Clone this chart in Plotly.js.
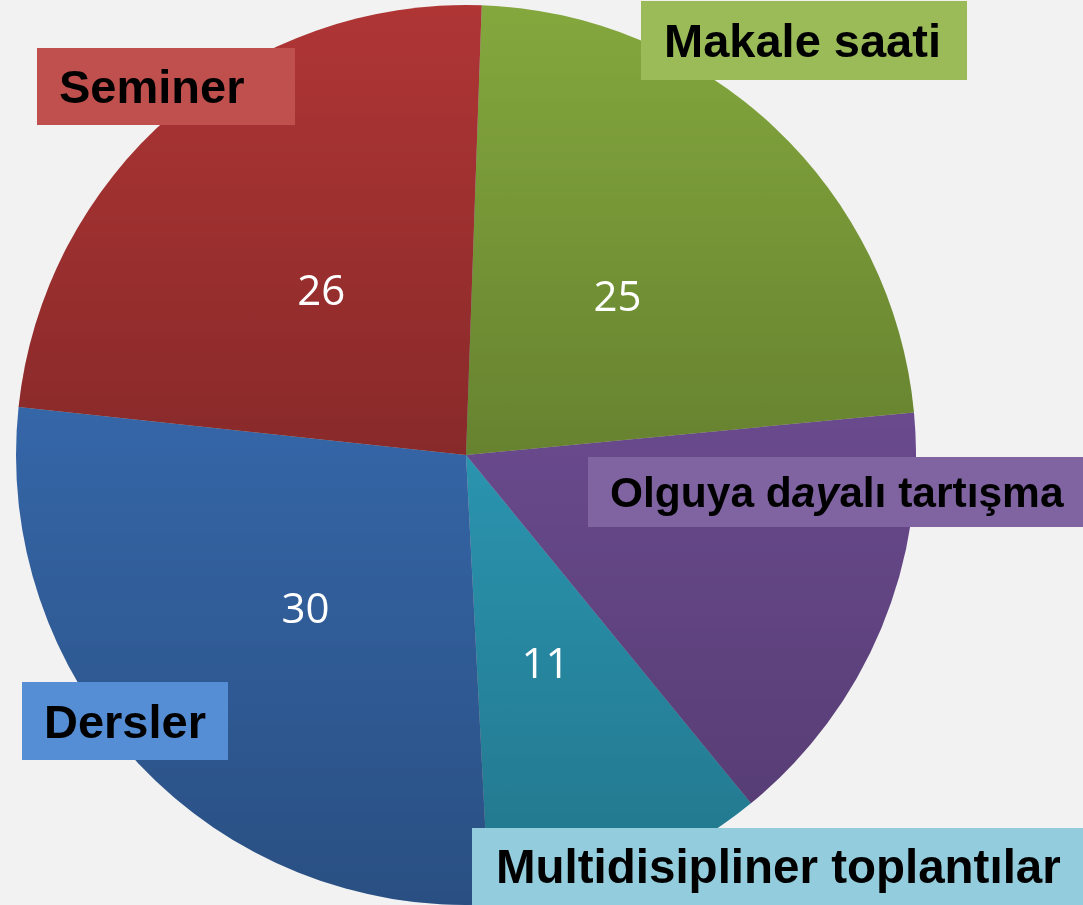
<!DOCTYPE html>
<html>
<head>
<meta charset="utf-8">
<script src="https://cdn.plot.ly/plotly-3.0.1.min.js"></script>
<style>
  html, body { margin: 0; padding: 0; background: #f2f2f2; }
  #chart { width: 1083px; height: 905px; }
  /* slices are shaded by multiplying with the gradient underlay */
  #chart .pielayer path.surface { mix-blend-mode: multiply; }
</style>
</head>
<body>
<div id="chart"></div>
<script>
// ---- data ----
const categories = ['Makale saati', 'Olguya dayalı tartışma', 'Multidisipliner toplantılar', 'Dersler', 'Seminer'];
const values = [25, 17, 11, 30, 26];
const labelTexts = ['Makale saati', 'Olguya d<i>ay</i>alı tartışma', 'Multidisipliner toplantılar', 'Dersler', 'Seminer'];
const hiddenValueLabels = ['Olguya dayalı tartışma'];

// ---- styles ----
const sliceColors = ['#84a83d', '#6a4a8e', '#2b97b3', '#3566a8', '#b03535'];
const boxColors = ['#9bbb59', '#8064a2', '#93cddd', '#558ed5', '#c0504d'];
const W = 1083, H = 905;
// label boxes in pixels [x0, y0, x1, y1, textX, fontSize]
const boxes = [
  [641, 1, 967, 80, 663, 47],
  [588, 457, 1083, 527, 609, 42.5],
  [472, 828, 1083, 905, 495, 47.5],
  [22, 682, 228, 760, 43, 47],
  [37, 48, 295, 125, 58, 47]
];
const cx = 466, cy = 455, R = 450, R2 = 285;
const ROT = 2;

const px = x => x / W;
const py = y => 1 - y / H;

const pieMain = {
  type: 'pie',
  labels: categories,
  values: values,
  sort: false,
  direction: 'clockwise',
  rotation: ROT,
  textinfo: 'none',
  hoverinfo: 'label+value',
  marker: { colors: sliceColors, line: { width: 0 } },
  domain: { x: [px(cx - R), px(cx + R)], y: [py(cy + R), py(cy - R)] },
  showlegend: false
};

const pieText = {
  type: 'pie',
  labels: categories,
  values: values,
  sort: false,
  direction: 'clockwise',
  rotation: ROT,
  hole: 0.55,
  textposition: 'inside',
  insidetextorientation: 'horizontal',
  texttemplate: categories.map(c => hiddenValueLabels.includes(c) ? '' : '%{value}'),
  textfont: { family: 'Open Sans, sans-serif', size: 42, color: '#ffffff' },
  hoverinfo: 'skip',
  marker: { colors: categories.map(() => 'rgba(0,0,0,0)'), line: { width: 0 } },
  domain: { x: [px(cx - R2), px(cx + R2)], y: [py(cy + R2), py(cy - R2)] },
  showlegend: false
};

// ---- shading underlay: vertical gradient for the upper and lower groups of slices ----
const total = values.reduce((a, b) => a + b, 0);
let acc = 0;
const startAngle = {};
categories.forEach((c, i) => { startAngle[c] = ROT + acc / total * 360; acc += values[i]; });
const aLeft = startAngle['Seminer'];
const aRight = startAngle[categories[categories.indexOf('Makale saati') + 1]];
const pt = (a, r) => [450 + r * Math.sin(a * Math.PI / 180), 450 - r * Math.cos(a * Math.PI / 180)];
const A = pt(aLeft, 900), B = pt(aRight, 900);
const yTopLower = Math.min(pt(aLeft, 450)[1], pt(aRight, 450)[1]);
const f = p => p[0].toFixed(1) + ',' + p[1].toFixed(1);
const topPoly = [[450, 450], A, [-500, -500], [1400, -500], B].map(f).join(' ');
const botPoly = [[450, 450], B, [1400, 1400], [-500, 1400], A].map(f).join(' ');
const svg = '<svg xmlns="http://www.w3.org/2000/svg" width="900" height="900" viewBox="0 0 900 900">' +
  '<defs>' +
  '<clipPath id="c"><circle cx="450" cy="450" r="450"/></clipPath>' +
  '<linearGradient id="gt" gradientUnits="userSpaceOnUse" x1="0" y1="0" x2="0" y2="450">' +
  '<stop offset="0" stop-color="#ffffff"/><stop offset="1" stop-color="#c6c6c6"/></linearGradient>' +
  '<linearGradient id="gb" gradientUnits="userSpaceOnUse" x1="0" y1="' + yTopLower.toFixed(1) + '" x2="0" y2="900">' +
  '<stop offset="0" stop-color="#ffffff"/><stop offset="1" stop-color="#c6c6c6"/></linearGradient>' +
  '</defs>' +
  '<g clip-path="url(#c)">' +
  '<polygon points="' + topPoly + '" fill="url(#gt)"/>' +
  '<polygon points="' + botPoly + '" fill="url(#gb)"/>' +
  '</g></svg>';
const svgUri = 'data:image/svg+xml;charset=utf-8,' + encodeURIComponent(svg);

const shapes = boxes.map((b, i) => ({
  type: 'rect', xref: 'paper', yref: 'paper',
  x0: px(b[0]), x1: px(b[2]), y0: py(b[3]), y1: py(b[1]),
  fillcolor: boxColors[i], line: { width: 0 }, layer: 'above'
}));

const annotations = boxes.map((b, i) => ({
  xref: 'paper', yref: 'paper',
  x: px(b[4]), y: py((b[1] + b[3]) / 2),
  xanchor: 'left', yanchor: 'middle',
  text: '<b>' + labelTexts[i] + '</b>',
  showarrow: false, borderpad: 0,
  font: { family: 'Liberation Sans, Arial, sans-serif', size: b[5], color: '#000000' }
}));

const layout = {
  width: W, height: H,
  margin: { l: 0, r: 0, t: 0, b: 0 },
  paper_bgcolor: '#f2f2f2',
  plot_bgcolor: '#f2f2f2',
  showlegend: false,
  shapes: shapes,
  annotations: annotations,
  images: [{
    source: svgUri, xref: 'paper', yref: 'paper',
    x: px(cx - R), y: py(cy - R), sizex: (2 * R) / W, sizey: (2 * R) / H,
    xanchor: 'left', yanchor: 'top', sizing: 'stretch', layer: 'below'
  }]
};

Plotly.newPlot('chart', [pieMain, pieText], layout, { displayModeBar: false, staticPlot: true });
</script>
</body>
</html>
